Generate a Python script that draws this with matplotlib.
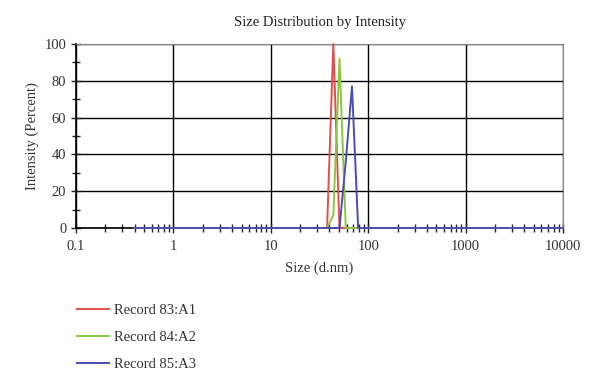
import matplotlib
matplotlib.use('Agg')
import matplotlib.pyplot as plt
from matplotlib.ticker import LogLocator, FixedLocator, FuncFormatter
from matplotlib.lines import Line2D

plt.rcParams['font.family'] = ['Liberation Serif', 'DejaVu Serif']

# size bins (d.nm) and intensities (%)
sizes = [0.4, 37.8, 43.8, 50.7, 58.8, 68.1, 78.8, 10000]
rec83 = [0, 0, 100, 0, 0, 0, 0, 0]
rec84 = [0, 0, 7, 92, 0, 0, 0, 0]
rec85 = [0, 0, 0, 0, 36, 77, 0, 0]
labels = ['Record 83:A1', 'Record 84:A2', 'Record 85:A3']
colors = ['#e0504a', '#8cc63f', '#4b4eb0']

fig = plt.figure(figsize=(6.0, 3.84), dpi=100)
ax = fig.add_axes([0.1267, 0.4063, 0.8117, 0.479])

for vals, c in zip([rec83, rec84, rec85], colors):
    ax.plot(sizes, vals, color=c, lw=1.4, clip_on=False, zorder=3)

ax.set_xscale('log')
ax.set_xlim(0.1, 10000)
ax.set_ylim(0, 100)
ax.xaxis.set_major_locator(FixedLocator([0.1, 1, 10, 100, 1000, 10000]))
ax.xaxis.set_minor_locator(LogLocator(base=10, subs=range(2, 10)))
ax.xaxis.set_major_formatter(FuncFormatter(lambda v, p: f'{v:g}'))
ax.xaxis.set_minor_formatter(FuncFormatter(lambda v, p: ''))
ax.yaxis.set_major_locator(FixedLocator([0, 20, 40, 60, 80, 100]))
ax.yaxis.set_minor_locator(FixedLocator([10, 30, 50, 70, 90]))

ax.grid(True, which='major', color='black', lw=1.0)
ax.tick_params(which='both', direction='inout', colors='#222222',
               labelsize=10.5, labelcolor='#333333')
ax.tick_params(which='major', length=7, width=1)
ax.tick_params(which='minor', length=6, width=1)
ax.tick_params(axis='x', pad=5)
for s in ['left', 'bottom']:
    ax.spines[s].set_color('black')
    ax.spines[s].set_linewidth(1.2)
for s in ['right', 'top']:
    ax.spines[s].set_color('#888888')
    ax.spines[s].set_linewidth(0.8)

ax.set_title('Size Distribution by Intensity', fontsize=10.5, color='#222222', pad=13)
ax.set_xlabel('Size (d.nm)', fontsize=10.5, color='#333333', labelpad=6)
ax.set_ylabel('Intensity (Percent)', fontsize=10.5, color='#333333', labelpad=4)

handles = [Line2D([], [], color=c, lw=1.4) for c in colors]
fig.legend(handles, labels, loc='upper left', bbox_to_anchor=(0.107, 0.243),
           frameon=False, fontsize=10.5, labelcolor='#333333',
           handlelength=2.2, labelspacing=0.95, handletextpad=0.3)

fig.savefig('out.png', dpi=100)
